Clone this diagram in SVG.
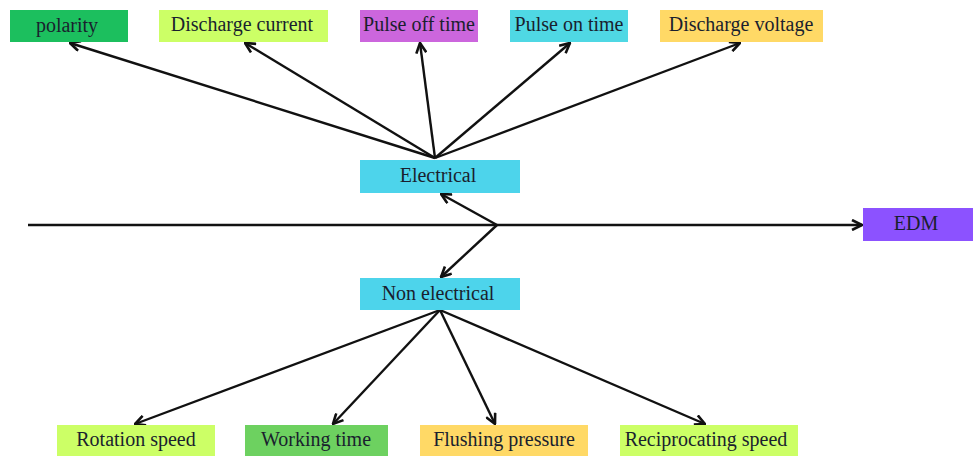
<svg xmlns="http://www.w3.org/2000/svg" width="973" height="457" viewBox="0 0 973 457">
<style>
text{font-family:"Liberation Serif","Times New Roman",serif;font-size:20px;fill:#1a1f2e;text-anchor:middle;dominant-baseline:central}
.c{stroke:#111;stroke-width:2.4;fill:none;marker-end:url(#ah)}
</style>
<defs>
<marker id="ah" viewBox="0 0 12 12" refX="11" refY="6" markerWidth="12" markerHeight="12" orient="auto" markerUnits="userSpaceOnUse">
<path d="M1,1 L11,6 L1,11" fill="none" stroke="#111" stroke-width="2.6" stroke-linejoin="miter"/>
</marker>
</defs>
<rect width="973" height="457" fill="#fff"/>
<g id="connectors">
<path class="c" d="M28,225 H862"/>
<path class="c" d="M497,225 L441,194"/>
<path class="c" d="M497,225 L441,277"/>
<path class="c" d="M435,158 L70,43"/>
<path class="c" d="M435,158 L245,43"/>
<path class="c" d="M435,158 L420,43"/>
<path class="c" d="M435,158 L570,43"/>
<path class="c" d="M435,158 L740,43"/>
<path class="c" d="M440,310 L135,424"/>
<path class="c" d="M440,310 L333,424"/>
<path class="c" d="M440,310 L495,424"/>
<path class="c" d="M440,310 L705,424"/>
</g>
<g id="polarity"><rect x="10" y="10" width="118" height="32" fill="#1cbf5e"/><text x="67" y="25">polarity</text></g>
<g id="discharge-current"><rect x="159" y="10" width="169" height="32" fill="#ccff66"/><text x="242" y="24">Discharge current</text></g>
<g id="pulse-off"><rect x="360" y="10" width="118" height="32" fill="#cc66dd"/><text x="419" y="24">Pulse off time</text></g>
<g id="pulse-on"><rect x="510" y="10" width="118" height="32" fill="#4fd8e4"/><text x="569" y="24">Pulse on time</text></g>
<g id="discharge-voltage"><rect x="660" y="10" width="163" height="32" fill="#ffd966"/><text x="741" y="24">Discharge voltage</text></g>
<g id="electrical"><rect x="360" y="160" width="160" height="33" fill="#4dd4eb"/><text x="438" y="175">Electrical</text></g>
<g id="non-electrical"><rect x="360" y="278" width="160" height="32" fill="#4dd4eb"/><text x="438" y="293">Non electrical</text></g>
<g id="edm"><rect x="863" y="208" width="110" height="33" fill="#8c52ff"/><text x="916" y="223">EDM</text></g>
<g id="rotation-speed"><rect x="57" y="425" width="158" height="31" fill="#ccff66"/><text x="136" y="439">Rotation speed</text></g>
<g id="working-time"><rect x="245" y="425" width="143" height="31" fill="#6dd160"/><text x="316" y="439">Working time</text></g>
<g id="flushing-pressure"><rect x="420" y="425" width="168" height="31" fill="#ffd966"/><text x="504" y="439">Flushing pressure</text></g>
<g id="reciprocating-speed"><rect x="620" y="425" width="178" height="31" fill="#ccff66"/><text x="706" y="439">Reciprocating speed</text></g>
</svg>
